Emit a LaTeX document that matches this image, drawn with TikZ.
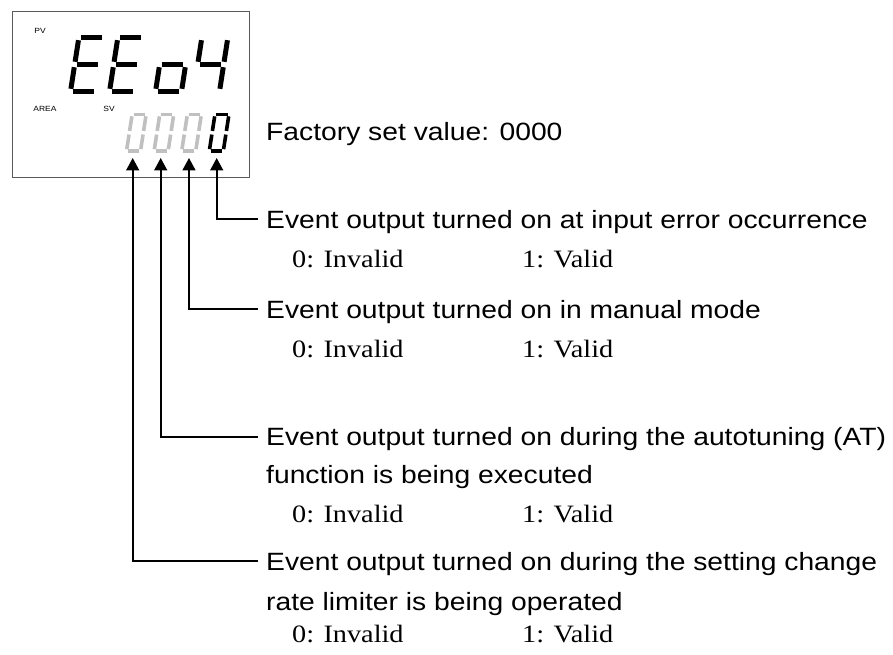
\documentclass[tikz,border=0pt]{standalone}
\usepackage{fontspec}
\setmainfont{Liberation Serif}[FakeStretch=1.13]
\setsansfont{Liberation Sans}[FakeStretch=1.13]
\usetikzlibrary{arrows.meta}
\definecolor{segoff}{RGB}{192,192,192}
\definecolor{boxline}{RGB}{90,90,90}
\newcommand\sgA{\draw (0.1,1)--(0.9,1);}
\newcommand\sgB{\draw (1,0.95)--(1,0.55);}
\newcommand\sgC{\draw (1,0.45)--(1,0.05);}
\newcommand\sgD{\draw (0.1,0)--(0.9,0);}
\newcommand\sgE{\draw (0,0.45)--(0,0.05);}
\newcommand\sgF{\draw (0,0.95)--(0,0.55);}
\newcommand\sgG{\draw (0.1,0.5)--(0.9,0.5);}
% #1 x, #2 y (bottom), #3 width, #4 height, #5 style, #6 segments
\newcommand\segdigit[6]{%
  \begin{scope}[shift={(#1,#2)},xslant=0.155,x=#3pt,y=#4pt,#5]
    \foreach \s in {#6}{\csname sg\s\endcsname}
  \end{scope}}
\tikzset{
  bigseg/.style={line width=5pt,line cap=butt},
  smallon/.style={line width=3.6pt,line cap=butt,draw=black},
  smalloff/.style={line width=3.6pt,line cap=butt,draw=segoff},
  conn/.style={line width=1.8pt,-{Triangle[length=12.5pt,width=13pt]}},
  sanstext/.style={anchor=base west,inner sep=0pt,font=\sffamily\fontsize{25}{30}\selectfont},
  seriftext/.style={anchor=base west,inner sep=0pt,font=\rmfamily\fontsize{25}{30}\selectfont},
  tiny/.style={inner sep=0pt,font=\sffamily\fontsize{7.5}{9}\selectfont}
}
\begin{document}
\begin{tikzpicture}[x=1pt,y=-1pt]
\useasboundingbox (0,0) rectangle (893,655);
% display box
\node[draw=boxline,line width=1.2pt,minimum width=237pt,minimum height=166pt,inner sep=0pt,anchor=north west] (disp) at (12,11) {};
\node[tiny] (pv) at (40,31) {PV};
\node[tiny] (area) at (45,109) {AREA};
\node[tiny] (sv) at (109,109) {SV};
% main digits EEo4
\segdigit{70.5}{91.5}{26}{54}{bigseg}{A,D,E,F,G}
\segdigit{109.5}{91.5}{26}{54}{bigseg}{A,D,E,F,G}
\segdigit{155.5}{91.5}{26}{54}{bigseg}{C,D,E,G}
\segdigit{193.5}{91.5}{26}{54}{bigseg}{B,C,F,G}
% lower digits 0000
\segdigit{126.5}{151}{14}{36.5}{smalloff}{A,B,C,D,E,F}
\segdigit{154.1}{151}{14}{36.5}{smalloff}{A,B,C,D,E,F}
\segdigit{181.7}{151}{14}{36.5}{smalloff}{A,B,C,D,E,F}
\segdigit{209.3}{151}{14}{36.5}{smallon}{A,B,C,D,E,F}
% texts
\node[sanstext] (fac) at (266,141) {Factory set value: 0000};
\node[sanstext] (l1) at (266,228) {Event output turned on at input error occurrence};
\node[seriftext] (l1a) at (292,267) {0: Invalid};
\node[seriftext] (l1b) at (522,267) {1: Valid};
\node[sanstext] (l2) at (266,318) {Event output turned on in manual mode};
\node[seriftext] (l2a) at (292,357) {0: Invalid};
\node[seriftext] (l2b) at (522,357) {1: Valid};
\node[sanstext] (l3) at (266,445) {Event output turned on during the autotuning (AT)};
\node[sanstext] (l3c) at (266,483) {function is being executed};
\node[seriftext] (l3a) at (292,522) {0: Invalid};
\node[seriftext] (l3b) at (522,522) {1: Valid};
\node[sanstext] (l4) at (266,570) {Event output turned on during the setting change};
\node[sanstext] (l4c) at (266,610) {rate limiter is being operated};
\node[seriftext] (l4a) at (292,642) {0: Invalid};
\node[seriftext] (l4b) at (522,642) {1: Valid};
% connectors
\coordinate (t1) at (132.7,158);
\coordinate (t2) at (160.7,158);
\coordinate (t3) at (189,158);
\coordinate (t4) at (216.7,158);
\coordinate (e1) at (258,561);
\coordinate (e2) at (258,437);
\coordinate (e3) at (258,309);
\coordinate (e4) at (258,219);
\draw[conn] (e4) -| (t4);
\draw[conn] (e3) -| (t3);
\draw[conn] (e2) -| (t2);
\draw[conn] (e1) -| (t1);
\end{tikzpicture}
\end{document}
